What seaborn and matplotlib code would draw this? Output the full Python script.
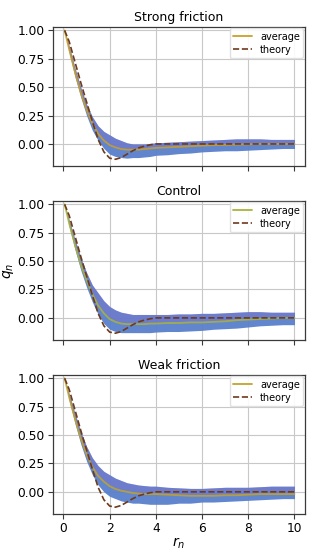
import numpy as np
import pandas as pd

import matplotlib
matplotlib.use('Agg')
import matplotlib.pyplot as plt
import seaborn as sns

# sample points along r_n
r = [0.05, 0.25, 0.5, 0.75, 1.0, 1.25, 1.5, 1.75, 2.0, 2.25, 2.5, 2.75, 3.0, 3.25, 3.5, 3.75, 4.0,
     4.5, 5.0, 5.5, 6.0, 6.5, 7.0, 7.5, 8.0, 8.5, 9.0, 9.5, 10.0]

theory = [1.0, 0.90, 0.72, 0.54, 0.37, 0.20, 0.04, -0.07, -0.125, -0.135, -0.12, -0.09, -0.06, -0.035,
          -0.02, -0.008, 0.0, 0.0, 0.0, 0.0, 0.0, 0.0, 0.0, 0.0, 0.0, 0.0, 0.0, 0.0, 0.0]

titles = ["Strong friction", "Control", "Weak friction"]

avg_strong = [1.0, 0.83, 0.63, 0.45, 0.30, 0.18, 0.09, 0.03, -0.01, -0.03, -0.045, -0.05, -0.05, -0.05,
              -0.045, -0.04, -0.035, -0.03, -0.025, -0.02, -0.015, -0.01, -0.008, -0.005, -0.003, 0.0, 0.0, 0.0, 0.0]
lo_strong = [1.0, 0.80, 0.59, 0.41, 0.25, 0.12, 0.03, -0.04, -0.09, -0.11, -0.12, -0.125, -0.12, -0.12,
             -0.115, -0.11, -0.10, -0.095, -0.085, -0.08, -0.07, -0.065, -0.06, -0.06, -0.055, -0.05, -0.045, -0.04, -0.04]
hi_strong = [1.0, 0.86, 0.67, 0.50, 0.35, 0.24, 0.16, 0.11, 0.08, 0.05, 0.03, 0.01, 0.0, 0.0,
             0.0, 0.005, 0.01, 0.015, 0.02, 0.025, 0.03, 0.035, 0.04, 0.045, 0.045, 0.045, 0.04, 0.04, 0.04]

avg_control = [1.0, 0.83, 0.64, 0.47, 0.33, 0.21, 0.11, 0.04, -0.01, -0.035, -0.05, -0.055, -0.055, -0.055,
               -0.055, -0.05, -0.05, -0.045, -0.045, -0.04, -0.04, -0.035, -0.03, -0.02, -0.015, -0.01, -0.005, 0.0, 0.0]
lo_control = [1.0, 0.80, 0.60, 0.42, 0.27, 0.14, 0.03, -0.05, -0.10, -0.12, -0.13, -0.13, -0.13, -0.13,
              -0.13, -0.13, -0.125, -0.12, -0.12, -0.115, -0.11, -0.10, -0.095, -0.09, -0.08, -0.07, -0.065, -0.06, -0.06]
hi_control = [1.0, 0.86, 0.69, 0.53, 0.40, 0.29, 0.22, 0.15, 0.10, 0.07, 0.05, 0.04, 0.03, 0.03,
              0.03, 0.03, 0.03, 0.03, 0.035, 0.035, 0.04, 0.04, 0.045, 0.05, 0.055, 0.055, 0.05, 0.05, 0.05]

avg_weak = [1.0, 0.83, 0.64, 0.47, 0.33, 0.22, 0.14, 0.09, 0.05, 0.025, 0.01, 0.0, -0.01, -0.015,
            -0.02, -0.02, -0.02, -0.025, -0.03, -0.035, -0.035, -0.035, -0.03, -0.03, -0.025, -0.02, -0.02, -0.02, -0.02]
lo_weak = [1.0, 0.80, 0.60, 0.42, 0.27, 0.15, 0.06, 0.0, -0.04, -0.06, -0.08, -0.09, -0.10, -0.10,
           -0.105, -0.11, -0.11, -0.11, -0.10, -0.10, -0.09, -0.09, -0.085, -0.08, -0.075, -0.07, -0.065, -0.06, -0.06]
hi_weak = [1.0, 0.86, 0.69, 0.53, 0.40, 0.30, 0.23, 0.18, 0.15, 0.12, 0.10, 0.08, 0.07, 0.06,
           0.055, 0.05, 0.05, 0.04, 0.035, 0.03, 0.03, 0.035, 0.04, 0.04, 0.04, 0.045, 0.05, 0.05, 0.05]

averages = [avg_strong, avg_control, avg_weak]
lowers = [lo_strong, lo_control, lo_weak]
uppers = [hi_strong, hi_control, hi_weak]
avg_colors = ["#c9a02a", "#a9b43a", "#c2a42c"]

sns.set_style("ticks", {"axes.grid": True, "grid.color": "#c8c8c8", "axes.edgecolor": "#3a3a3a",
                        "text.color": "black", "xtick.color": "black", "ytick.color": "black",
                        "axes.labelcolor": "black"})
plt.rcParams['font.family'] = ['DejaVu Sans']

fig, axes = plt.subplots(3, 1, figsize=(3.14, 5.5), dpi=100, sharex=True)
fig.subplots_adjust(left=0.169, right=0.971, top=0.951, bottom=0.0655, hspace=0.25)

for i, ax in enumerate(axes):
    df = pd.DataFrame({'r': r, 'avg': averages[i], 'theory': theory})
    ax.fill_between(r, lowers[i], uppers[i], color="#5a80cc", alpha=0.95, lw=0, zorder=1)
    # purple tint on the upper half of the spread
    ax.fill_between(r, averages[i], uppers[i], color="#8a66c8", alpha=0.3, lw=0, zorder=1)
    sns.lineplot(data=df, x='r', y='avg', ax=ax, color=avg_colors[i], lw=1.3, alpha=0.85,
                 label='average', zorder=3)
    sns.lineplot(data=df, x='r', y='theory', ax=ax, color="#6e3a1c", lw=1.2, ls='--',
                 label='theory', zorder=4)
    ax.set_title(titles[i], fontsize=9, pad=4)
    ax.set_xlim(-0.45, 10.45)
    ax.set_ylim(-0.195, 1.03)
    ax.set_yticks([0.0, 0.25, 0.5, 0.75, 1.0])
    ax.set_yticklabels(["0.00", "0.25", "0.50", "0.75", "1.00"])
    ax.set_xticks([0, 2, 4, 6, 8, 10])
    ax.tick_params(labelsize=8.8, length=3.5, color="#3a3a3a", pad=2.5)
    ax.set_xlabel('')
    ax.set_ylabel('')
    leg = ax.legend(loc='upper right', fontsize=7, handlelength=2.0, borderpad=0.35,
                    labelspacing=0.3, borderaxespad=0.15, framealpha=0.9,
                    edgecolor="#dddddd", fancybox=True)
    for h in leg.get_lines():
        h.set_alpha(1)
    for s in ax.spines.values():
        s.set_linewidth(0.9)

axes[1].set_ylabel('$q_n$', fontsize=10, labelpad=1)
axes[2].set_xlabel('$r_n$', fontsize=10, labelpad=0)

plt.savefig("out.png", dpi=100)
plt.close()
